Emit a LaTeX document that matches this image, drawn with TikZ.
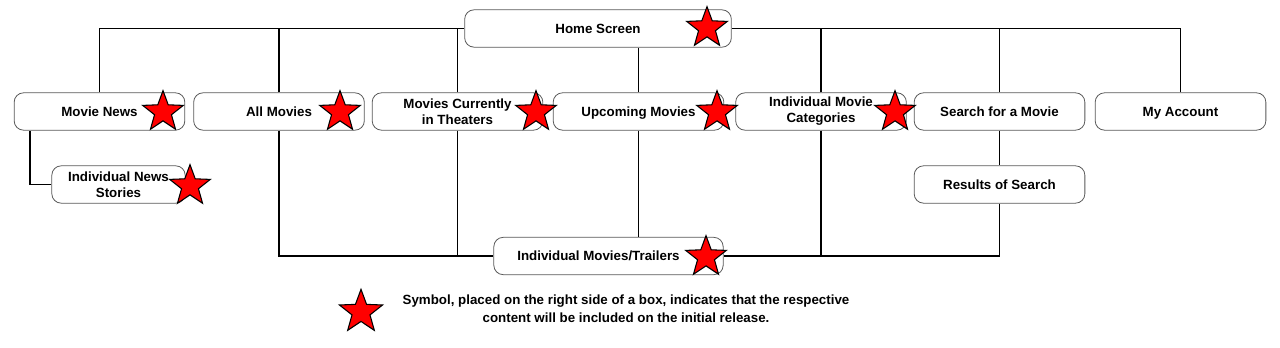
\documentclass[tikz,border=0pt]{standalone}
\usepackage{fontspec}
\setmainfont{Liberation Sans}
\usetikzlibrary{positioning,shapes.geometric}
\tikzset{
mybox/.style={
  draw=black!65,
  rounded corners=7pt,
  line width=0.6pt,
  fill=white,
  minimum width=128pt,
  minimum height=28pt,
  align=center,
  font=\bfseries
  },
myboxs/.style={
  mybox,
  text height=1.6ex,
  text depth=0.2ex
  },
mystar/.style={
  star,
  star points=5,
  star point ratio=2.4,
  minimum size=32pt,
  inner sep=0pt,
  draw=black,
  fill=red,
  line width=0.8pt
  },
myline/.style={line width=0.9pt}
}

\begin{document}
\begin{tikzpicture}[x=0.75pt,y=-0.75pt]
\useasboundingbox (0,0) rectangle (1280,348);

\node[myboxs,minimum width=200pt] (home) at (598,28.5) {Home Screen};

\node[myboxs] (news)   at (99.5,111.5)  {Movie News};
\node[myboxs] (all)    at (279,111.5)   {All Movies};
\node[mybox]  (cur)    at (457.5,111.5) {Movies Currently\\in Theaters};
\node[myboxs] (up)     at (638.5,111.5) {Upcoming Movies};
\node[mybox]  (cat)    at (821,111.5)   {Individual Movie\\Categories};
\node[myboxs] (search) at (999.5,111.5) {Search for a Movie};
\node[myboxs] (acct)   at (1180.5,111.5){My Account};

\node[mybox,minimum width=100pt] (story) at (118.5,184.5) {Individual News\\Stories};
\node[myboxs] (result) at (999.5,184.5) {Results of Search};

\node[myboxs,minimum width=172pt] (trail) at (608.5,256) {Individual Movies/Trailers\hspace{15pt}};

\coordinate (nb) at (30,0);

\begin{scope}[myline]
% top level
\draw (news.north) |- (home.west);
\draw (all.north) -- (all.north |- home.west);
\draw (cur.north) -- (cur.north |- home.west);
\draw (up.north) -- (up.north |- home.south);
\draw (acct.north) |- (home.east);
\draw (cat.north) -- (cat.north |- home.east);
\draw (search.north) -- (search.north |- home.east);

% sub pages
\draw (story.west) -| (nb |- news.south);
\draw (search.south) -- (result.north);

% movie pages
\draw (all.south) |- (trail.west);
\draw (cur.south) -- (cur.south |- trail.west);
\draw (up.south) -- (up.south |- trail.north);
\draw (result.south) |- (trail.east);
\draw (cat.south) -- (cat.south |- trail.east);
\end{scope}

\node[mystar] (s-home)  at (707,28)  {};
\node[mystar] (s-news)  at (163,112) {};
\node[mystar] (s-all)   at (340,112) {};
\node[mystar] (s-cur)   at (536,112) {};
\node[mystar] (s-up)    at (717,112) {};
\node[mystar] (s-cat)   at (895,112) {};
\node[mystar] (s-story) at (190,186) {};
\node[mystar] (s-trail) at (706,257) {};

\node[mystar,minimum size=34pt] (key) at (361,312) {};
\node[align=center,font=\bfseries\fontsize{10}{13.5}\selectfont] (keytext) at (626,308.5)
  {Symbol, placed on the right side of a box, indicates that the respective\\content will be included on the initial release.};

\end{tikzpicture}
\end{document}
